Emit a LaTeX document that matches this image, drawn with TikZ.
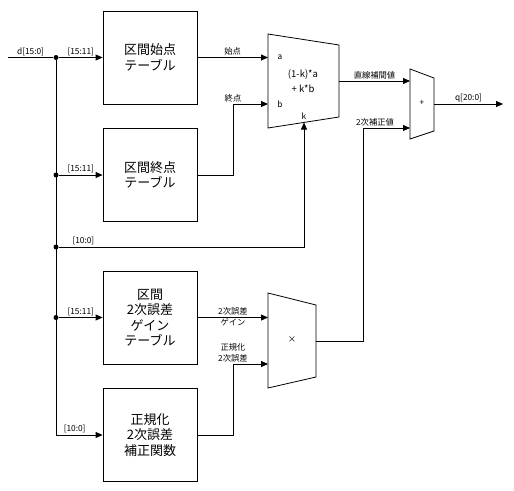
\documentclass[tikz,border=0pt]{standalone}
\usepackage{fontspec}
\setmainfont{Noto Sans CJK JP}
\usetikzlibrary{positioning, calc, arrows.meta}

\begin{document}
\begin{tikzpicture}[x=1pt,y=-1pt,line width=0.8pt,
    blk/.style={draw, minimum width=94pt, minimum height=93pt, align=center,
      inner sep=0pt, font=\fontsize{13}{15.5}\selectfont},
    lbl/.style={font=\fontsize{8.3}{11}\selectfont, inner sep=1.5pt, align=center},
    sig/.style={-{Triangle[length=7pt,width=6pt]}},
    jdot/.style={circle, fill, inner sep=0pt, minimum size=5pt}]
  \useasboundingbox (0,0) rectangle (514,490);

  % tables
  \node[blk] (start) at (150,57.5) {区間始点\\テーブル};
  \node[blk] (end) at (150,175) {区間終点\\テーブル};
  \node[blk] (gain) at (150,317.5) {区間\\2次誤差\\ゲイン\\テーブル};
  \node[blk] (corr) at (150,435) {正規化\\2次誤差\\補正関数};

  % input bus
  \coordinate (din) at (8,57.5);
  \node[jdot] (j1) at (56,57.5) {};
  \node[jdot] (j2) at (56,175) {};
  \node[jdot] (j3) at (56,247) {};
  \node[jdot] (j4) at (56,317.5) {};
  \draw (din) -- (j1) node[lbl, midway, above] {d[15:0]};
  \draw[sig] (j1) |- (corr.west) node[lbl, pos=0.7, above] {[10:0]};
  \draw[sig] (j1) -- (start.west) node[lbl, midway, above] {[15:11]};
  \draw[sig] (j2) -- (end.west) node[lbl, midway, above] {[15:11]};
  \draw[sig] (j4) -- (gain.west) node[lbl, midway, above] {[15:11]};

  % interpolation block
  \draw (268,34) -- (339,45) -- (339,117) -- (268,128) -- cycle;
  \coordinate (ma) at (268,57.5);
  \coordinate (mb) at (268,104);
  \coordinate (mk) at (304,122.5);
  \coordinate (mout) at (339,81);
  \node[lbl] (la) at (280,57.5) {a};
  \node[lbl] (lb) at (280,104) {b};
  \node[lbl] (lk) at (304,116) {k};
  \node[lbl, font=\fontsize{9.5}{15}\selectfont] (lerp) at (303,81.5) {(1-k)*a\\+ k*b};

  % adder
  \draw (410,69) -- (434,78) -- (434,131) -- (410,139) -- cycle;
  \coordinate (ain1) at (410,81);
  \coordinate (ain2) at (410,128);
  \coordinate (aout) at (434,104);
  \coordinate (qout) at (503,104);
  \node[lbl] (lplus) at (422,103) {+};

  % multiplier
  \draw (268,293) -- (316,305) -- (316,377) -- (268,388) -- cycle;
  \coordinate (xin1) at (268,317.5);
  \coordinate (xin2) at (268,364);
  \coordinate (xout) at (316,341);
  \node[lbl] (lmul) at (292,340) {×};

  % connections
  \draw[sig] (start.east) -- (ma) node[lbl, midway, above] {始点};
  \coordinate (b1) at (233,104);
  \draw[sig] (end.east) -| (b1) -- (mb);
  \node[lbl, above] (lend) at (b1) {終点};
  \draw[sig] (j3) -| (mk) node[lbl, pos=0.05, above] {[10:0]};
  \draw[sig] (mout) -- (ain1) node[lbl, midway, above] {直線補間値};
  \coordinate (b2) at (363,128);
  \draw[sig] (xout) -| (b2) -- (ain2);
  \node[lbl, above] (lcorr) at (375,128) {2次補正値};
  \draw[sig] (aout) -- (qout) node[lbl, midway, above] {q[20:0]};
  \draw[sig] (gain.east) -- (xin1);
  \node[lbl] (lgain) at (233,316.5) {2次誤差\\ゲイン};
  \coordinate (b3) at (233,364);
  \draw[sig] (corr.east) -| (b3) -- (xin2);
  \node[lbl, above] (lnorm) at (b3) {正規化\\2次誤差};
\end{tikzpicture}
\end{document}
